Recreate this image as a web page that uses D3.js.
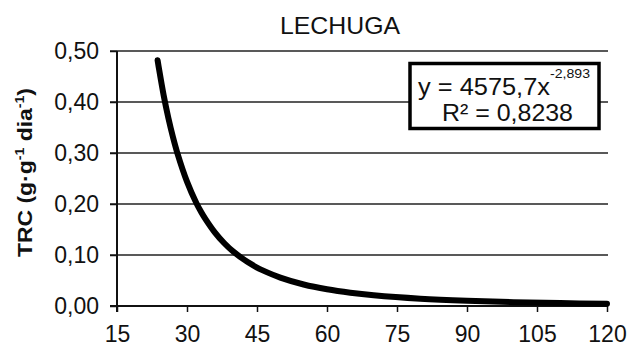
<!DOCTYPE html>
<html>
<head>
<meta charset="utf-8">
<script src="https://cdn.jsdelivr.net/npm/d3@7"></script>
<style>
  html, body { margin: 0; padding: 0; background: #fff; }
  svg { display: block; }
  text { font-family: "Liberation Sans", Arial, sans-serif; fill: #111; }
</style>
</head>
<body>
<svg id="chart" width="631" height="349"></svg>
<script>
// Data
const title = "LECHUGA";
const xTicks = [15, 30, 45, 60, 75, 90, 105, 120];
const yTicks = [0, 0.1, 0.2, 0.3, 0.4, 0.5];
const curveX = [23.7, 24, 25, 26, 27, 28, 30, 32, 33, 34, 36, 38, 40, 43, 45, 46, 50, 55, 60, 65, 70, 80, 90, 100, 110, 120];
const curveY = [0.482, 0.465, 0.413, 0.369, 0.331, 0.298, 0.244, 0.202, 0.185, 0.170, 0.144, 0.123, 0.106, 0.0861, 0.0754, 0.0708, 0.0557, 0.0422, 0.0328, 0.0260, 0.0210, 0.0143, 0.0102, 0.0075, 0.0057, 0.0044];
const eqMain = "y = 4575,7x";
const eqExp = "-2,893";
const eqR2 = "R² = 0,8238";

const svg = d3.select("#chart");
const x = d3.scaleLinear().domain([15, 120]).range([117, 607]);
const y = d3.scaleLinear().domain([0, 0.5]).range([306, 51]);
const fmt = v => d3.format(".2f")(v).replace(".", ",");

// gridlines
svg.append("g").selectAll("line").data(yTicks.filter(d => d > 0)).join("line")
  .attr("x1", x(15) - 7).attr("x2", x(120) + 1)
  .attr("y1", d => y(d)).attr("y2", d => y(d))
  .attr("stroke", "#222").attr("stroke-width", 1.5);

// y axis
const yAxis = svg.append("g").attr("transform", `translate(${x(15)},0)`)
  .call(d3.axisLeft(y).tickValues(yTicks).tickFormat(fmt).tickSize(7).tickPadding(11));
// x axis
const xAxis = svg.append("g").attr("transform", `translate(0,${y(0)})`)
  .call(d3.axisBottom(x).tickValues(xTicks).tickFormat(d3.format("d")).tickSize(6).tickPadding(14));

[yAxis, xAxis].forEach(g => {
  g.select(".domain").remove();
  g.selectAll(".tick line").attr("stroke", "#111").attr("stroke-width", 1.5);
  g.selectAll("text").attr("font-size", 23).attr("font-family", "Liberation Sans, Arial, sans-serif").attr("fill", "#111");
});
// axis lines
svg.append("line").attr("x1", x(15)).attr("x2", x(15)).attr("y1", y(0.5)).attr("y2", y(0) + 6)
  .attr("stroke", "#111").attr("stroke-width", 2);
svg.append("line").attr("x1", x(15) - 7).attr("x2", x(120) + 1).attr("y1", y(0)).attr("y2", y(0))
  .attr("stroke", "#111").attr("stroke-width", 2);

// curve
const pts = curveX.map((d, i) => [d, curveY[i]]);
svg.append("path").datum(pts)
  .attr("d", d3.line().x(d => x(d[0])).y(d => y(d[1])).curve(d3.curveCatmullRom))
  .attr("fill", "none").attr("stroke", "#000").attr("stroke-width", 6)
  .attr("stroke-linecap", "round").attr("stroke-linejoin", "round");

// title
svg.append("text").attr("x", 340).attr("y", 34).attr("text-anchor", "middle")
  .attr("font-size", 24).attr("textLength", 120).attr("lengthAdjust", "spacingAndGlyphs").text(title);

// y label
const yl = svg.append("text").attr("transform", "translate(32,172.5) rotate(-90)")
  .attr("text-anchor", "middle").attr("font-size", 21).attr("font-weight", "bold")
  .attr("textLength", 169).attr("lengthAdjust", "spacingAndGlyphs");
yl.append("tspan").text("TRC (g·g");
yl.append("tspan").attr("font-size", 13).attr("dy", -8).text("-1");
yl.append("tspan").attr("dy", 8).text(" dia");
yl.append("tspan").attr("font-size", 13).attr("dy", -8).text("-1");
yl.append("tspan").attr("dy", 8).text(")");

// equation box
svg.append("rect").attr("x", 410).attr("y", 63.5).attr("width", 189).attr("height", 65)
  .attr("fill", "#fff").attr("stroke", "#000").attr("stroke-width", 3.5);
svg.append("text").attr("x", 418).attr("y", 95).attr("font-size", 24)
  .attr("textLength", 132).attr("lengthAdjust", "spacingAndGlyphs").text(eqMain);
svg.append("text").attr("x", 550).attr("y", 78).attr("font-size", 13)
  .attr("textLength", 40).attr("lengthAdjust", "spacingAndGlyphs").text(eqExp);
svg.append("text").attr("x", 442).attr("y", 121).attr("font-size", 24)
  .attr("textLength", 131).attr("lengthAdjust", "spacingAndGlyphs").text(eqR2);
</script>
</body>
</html>
